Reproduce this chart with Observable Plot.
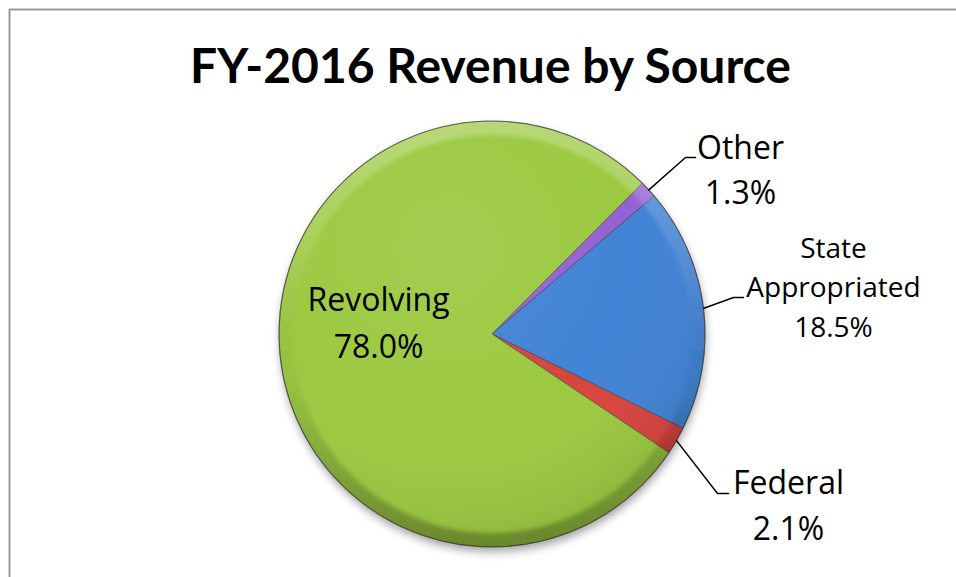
<!DOCTYPE html>
<html>
<head>
<meta charset="utf-8">
<script src="https://cdn.jsdelivr.net/npm/d3@7"></script>
<script src="https://cdn.jsdelivr.net/npm/@observablehq/plot@0.6"></script>
<style>
  html, body { margin: 0; padding: 0; background: #fff; overflow: hidden; }
  #chart { position: absolute; left: 0; top: 0; }
</style>
</head>
<body>
<div id="chart"></div>
<script>
// ---- data ----
const title = "FY-2016 Revenue by Source";
const categories = ["Other", "State Appropriated", "Federal", "Revolving"];
const shares = [1.3, 18.5, 2.1, 78.0];
const colors = ["#9362d2", "#4183d4", "#d8453f", "#9cc941"];

// ---- layout (pixels) ----
const W = 956, H = 577;
const CX = 492, CY = 334, R = 213;
const START = 44.9 * Math.PI / 180;
const labelLayout = {
  "Other":              {lines: ["Other"], x: 740, y: 158, lh: 45, size: 32, elbow: [685, 157], end: [695, 157]},
  "State Appropriated": {lines: ["State", "Appropriated"], x: 833, y: 257, lh: 39.5, size: 28, elbow: [733, 297], end: [743, 297]},
  "Federal":            {lines: ["Federal"], x: 788, y: 493, lh: 46, size: 32, elbow: [717, 493], end: [728, 493]},
  "Revolving":          {lines: ["Revolving"], x: 378, y: 310, lh: 47, size: 32, elbow: null, end: null}
};

const slices = categories.map((c, i) => ({category: c, share: shares[i], color: colors[i]}));
const arcs = d3.pie().sort(null).value(d => d.share).startAngle(START).endAngle(START + 2 * Math.PI)(slices);

// label rows
const labelRows = [];
arcs.forEach(a => {
  const L = labelLayout[a.data.category];
  const lines = [...L.lines, `${a.data.share.toFixed(1)}%`];
  lines.forEach((t, i) => labelRows.push({text: t, x: L.x, y: L.y + i * L.lh, size: L.size}));
});

// leader lines
const leaderRows = [];
arcs.forEach(a => {
  const L = labelLayout[a.data.category];
  if (!L.elbow) return;
  const mid = (a.startAngle + a.endAngle) / 2;
  leaderRows.push({k: a.data.category, x: CX + R * Math.sin(mid), y: CY - R * Math.cos(mid)});
  leaderRows.push({k: a.data.category, x: L.elbow[0], y: L.elbow[1]});
  leaderRows.push({k: a.data.category, x: L.end[0], y: L.end[1]});
});

function pieMark(index, scales) {
  const sx = scales.x || (v => v), sy = scales.y || (v => v);
  const cx = sx(CX), cy = sy(CY), r = sx(CX + R) - cx;
  const g = d3.create("svg:g");
  const defs = g.append("defs");
  const f = defs.append("filter").attr("id", "pieShadow").attr("x", "-20%").attr("y", "-20%").attr("width", "140%").attr("height", "140%");
  f.append("feGaussianBlur").attr("stdDeviation", 4);
  const f2 = defs.append("filter").attr("id", "rimBlur").attr("x", "-10%").attr("y", "-10%").attr("width", "120%").attr("height", "120%");
  f2.append("feGaussianBlur").attr("stdDeviation", 2);
  defs.append("clipPath").attr("id", "pieClip").append("circle").attr("cx", 0).attr("cy", 0).attr("r", r);
  const rim = defs.append("linearGradient").attr("id", "rimGrad").attr("x1", 0).attr("y1", 0).attr("x2", 0).attr("y2", 1);
  [[0, "#fff", 0.28], [0.35, "#fff", 0.08], [0.6, "#000", 0.03], [1, "#000", 0.28]].forEach(([o, c, op]) =>
    rim.append("stop").attr("offset", o).attr("stop-color", c).attr("stop-opacity", op));
  const shine = defs.append("radialGradient").attr("id", "shineGrad").attr("cx", 0.4).attr("cy", 0.3).attr("r", 0.7);
  [[0, "#fff", 0.08], [0.6, "#fff", 0.0], [1, "#000", 0.08]].forEach(([o, c, op]) =>
    shine.append("stop").attr("offset", o).attr("stop-color", c).attr("stop-opacity", op));

  // drop shadow
  g.append("circle").attr("cx", cx + 1).attr("cy", cy + 5).attr("r", r)
    .attr("fill", "#000").attr("fill-opacity", 0.35).attr("filter", "url(#pieShadow)");

  const arc = d3.arc().innerRadius(0).outerRadius(r);
  const gp = g.append("g").attr("transform", `translate(${cx},${cy})`);
  gp.selectAll("path.slice").data(arcs).join("path")
    .attr("class", "slice")
    .attr("d", arc)
    .attr("fill", d => d.data.color)
    .attr("stroke", "#3a3a3a").attr("stroke-opacity", 0.5).attr("stroke-width", 1);
  // overall shine
  gp.append("circle").attr("r", r).attr("fill", "url(#shineGrad)");
  // bevel rim (soft)
  const ring = d3.arc().innerRadius(r * 0.935).outerRadius(r + 4).startAngle(0).endAngle(2 * Math.PI);
  gp.append("g").attr("clip-path", "url(#pieClip)")
    .append("path").attr("d", ring()).attr("fill", "url(#rimGrad)").attr("filter", "url(#rimBlur)");
  gp.append("circle").attr("r", r).attr("fill", "none").attr("stroke", "#333").attr("stroke-opacity", 0.55).attr("stroke-width", 1.2);
  return g.node();
}

const plot = Plot.plot({
  width: W, height: H,
  margin: 0,
  x: {domain: [0, W], range: [0, W], axis: null},
  y: {domain: [0, H], range: [0, H], axis: null},
  style: {background: "#fff", fontFamily: "'Open Sans', sans-serif"},
  marks: [
    Plot.ruleY([9], {x1: 9, x2: W, stroke: "#9a9a9a", strokeWidth: 2}),
    Plot.ruleX([9], {y1: 9, y2: H, stroke: "#9a9a9a", strokeWidth: 2}),
    pieMark,
    Plot.line(leaderRows, {x: "x", y: "y", z: "k", stroke: "#000", strokeWidth: 1.5, curve: "linear"}),
    Plot.text(labelRows, {x: "x", y: "y", text: "text", fontSize: "size", lineAnchor: "bottom", textAnchor: "middle", fill: "#000", fontFamily: "'Open Sans', sans-serif"}),
    Plot.text([title], {x: () => 490, y: () => 82, text: d => d, lineAnchor: "bottom", textAnchor: "middle", fontSize: 48, fontWeight: "bold", fill: "#000", fontFamily: "Lato, sans-serif"})
  ]
});
document.getElementById("chart").appendChild(plot);
</script>
</body>
</html>
